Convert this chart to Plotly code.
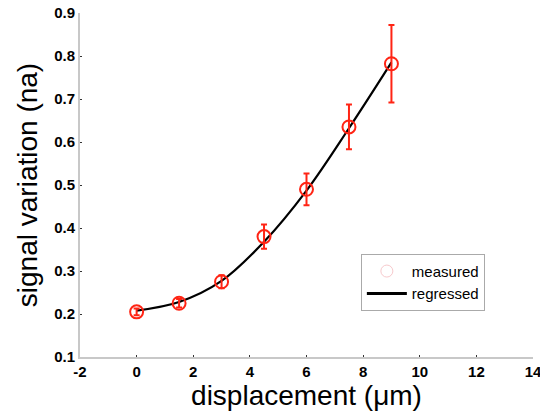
import plotly.graph_objects as go

displacement = [0, 1.5, 3, 4.5, 6, 7.5, 9]
measured = [0.205, 0.225, 0.275, 0.38, 0.49, 0.635, 0.782]
err = [0.008, 0.01, 0.015, 0.028, 0.037, 0.052, 0.09]
regressed_x = [0, 1.5, 3, 4.5, 6, 7.5, 9]
regressed_y = [0.208, 0.228, 0.277, 0.368, 0.487, 0.632, 0.785]
x_ticks = [-2, 0, 2, 4, 6, 8, 10, 12, 14]
x_tick_labels = ["-2", "0", "2", "4", "6", "8", "10", "12", "14"]
y_ticks = [0.1, 0.2, 0.3, 0.4, 0.5, 0.6, 0.7, 0.8, 0.9]

red = "#ff2414"
fig = go.Figure()
fig.add_trace(go.Scatter(
    x=regressed_x, y=regressed_y, mode="lines", line=dict(color="black", width=2.2, shape="spline"),
    name="regressed", showlegend=False))
fig.add_trace(go.Scatter(
    x=displacement, y=measured, mode="markers",
    marker=dict(symbol="circle-open", size=13, color=red, line=dict(width=2, color=red)),
    error_y=dict(type="data", array=err, color=red, thickness=2, width=3),
    showlegend=False))
fig.add_trace(go.Scatter(x=[None], y=[None], mode="markers", name="measured",
    marker=dict(symbol="circle-open", size=12, color="#f7c9cc", line=dict(width=1, color="#f7c9cc"))))
fig.add_trace(go.Scatter(x=[None], y=[None], mode="lines", name="regressed",
    line=dict(color="black", width=3)))

fig.update_layout(
    width=540, height=417,
    margin=dict(l=80, r=7, t=13, b=60),
    paper_bgcolor="white", plot_bgcolor="white",
    font=dict(family="Liberation Sans, Arial", color="black"),
    legend=dict(x=0.62, y=0.30, xanchor="left", yanchor="top",
                bordercolor="#aaaaaa", borderwidth=1, bgcolor="white",
                font=dict(size=15), tracegroupgap=0, itemwidth=40),
    xaxis=dict(range=[-2, 14], tickvals=x_ticks, ticktext=x_tick_labels,
               ticklabeloverflow="allow", automargin=False,
               showgrid=False, zeroline=False, showline=True, linecolor="#c8c8c8", linewidth=2,
               ticks="inside", ticklen=2, tickcolor="#333", mirror=False,
               tickfont=dict(size=15, weight="bold"),
               title=dict(text="displacement (μm)", font=dict(size=28), standoff=2)),
    yaxis=dict(range=[0.1, 0.9], tickvals=y_ticks, automargin=False,
               tickformat=".1f",
               showgrid=False, zeroline=False, showline=True, linecolor="#c8c8c8", linewidth=2,
               ticks="inside", ticklen=2, tickcolor="#333",
               tickfont=dict(size=15, weight="bold"),
               title=dict(text="signal variation (na)", font=dict(size=28), standoff=8)),
)
fig.write_html("out.html")
